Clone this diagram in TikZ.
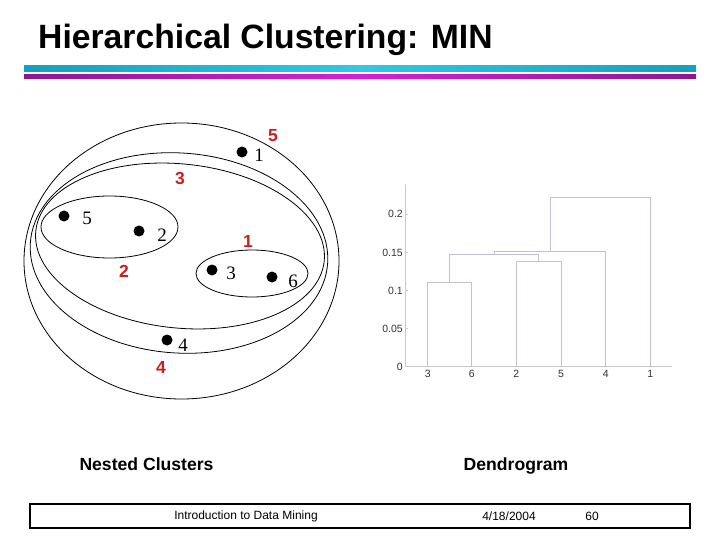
\documentclass[tikz,border=0pt]{standalone}
\usepackage{fontspec}
\setmainfont{Liberation Sans}
\newfontfamily\ptfont{Liberation Serif}
\definecolor{cyanE}{RGB}{20,160,190}
\definecolor{cyanM}{RGB}{50,200,225}
\definecolor{magE}{RGB}{140,25,145}
\definecolor{magM}{RGB}{215,30,215}
\definecolor{clred}{RGB}{205,30,30}
\definecolor{dendro}{RGB}{192,192,218}
\definecolor{axisgray}{RGB}{200,200,200}
\definecolor{ticktext}{RGB}{50,50,50}
\tikzset{
  pt/.style={circle,fill=black,inner sep=0pt,minimum size=11pt},
  ptlabel/.style={inner sep=0pt,font=\ptfont\fontsize{19}{22}\selectfont},
  cllabel/.style={inner sep=0pt,text=clred,font=\fontsize{17.5}{20}\selectfont\bfseries},
  clust/.style={draw=black,line width=0.8pt},
  dline/.style={draw=dendro,line width=1pt},
  axisline/.style={draw=axisgray,line width=0.6pt},
  ticklab/.style={inner sep=0pt,text=ticktext,font=\fontsize{10.5}{12}\selectfont},
  caption/.style={inner sep=0pt,anchor=base,font=\fontsize{17.6}{20}\selectfont\bfseries},
  foot/.style={inner sep=0pt,font=\fontsize{12}{14}\selectfont}
}
\begin{document}
\begin{tikzpicture}[x=1pt,y=-1pt]
\useasboundingbox (0,0) rectangle (720,540);
% title
\node[anchor=base west,inner sep=0pt,font=\fontsize{33.7}{40}\selectfont\bfseries] (title) at (38,49) {Hierarchical Clustering: MIN};
\shade[left color=cyanE,right color=cyanE,middle color=cyanM] (24,66) rectangle (696,72);
\shade[left color=magE,right color=magE,middle color=magM] (24,75) rectangle (696,79);
% nested clusters
\draw[clust] (181.5,261) ellipse [x radius=157.5, y radius=138];
\draw[clust] (179,253) ellipse [x radius=149, y radius=100, rotate=-4];
\draw[clust] (180,246) ellipse [x radius=145, y radius=82, rotate=-6];
\draw[clust] (109.5,227) ellipse [x radius=68.5, y radius=31];
\draw[clust] (252,273.5) ellipse [x radius=56, y radius=23.5];
% points
\node[pt] (p1) at (242,152) {};
\node[pt] (p5) at (64,216) {};
\node[pt] (p2) at (139,231) {};
\node[pt] (p3) at (212,270) {};
\node[pt] (p6) at (272,277) {};
\node[pt] (p4) at (167,340) {};
\node[ptlabel] (l1) at (259,155) {1};
\node[ptlabel] (l5) at (87,218) {5};
\node[ptlabel] (l2) at (162,235) {2};
\node[ptlabel] (l3) at (231,273) {3};
\node[ptlabel] (l6) at (293,281) {6};
\node[ptlabel] (l4) at (183,345) {4};
% cluster order labels
\node[cllabel] (c5) at (273,136) {5};
\node[cllabel] (c3) at (180,178) {3};
\node[cllabel] (c1) at (248,241) {1};
\node[cllabel] (c2) at (124,271) {2};
\node[cllabel] (c4) at (161,367) {4};
% dendrogram axes
\draw[axisline] (405,185) -- (405,366.7) -- (672,366.7);
\foreach \v/\y in {0/366.7,0.05/328.6,0.1/290.5,0.15/252.4,0.2/214.3}{
  \draw[axisline] (405,\y) -- (408,\y);
  \node[ticklab,anchor=east] (tick\v) at (403,\y) {\v};
}
\foreach \n/\x in {3/427.7,6/471.7,2/516.3,5/561,4/605.7,1/650.3}{
  \coordinate (leaf\n) at (\x,366.7);
  \draw[axisline] (\x,366.7) -- (\x,363.7);
  \node[ticklab] (leaflab\n) at (\x,374) {\n};
}
% dendrogram
\draw[dline] (leaf3) -- (427.7,282.7) -- (471.7,282.7) -- (leaf6);
\draw[dline] (leaf2) -- (516.3,261) -- (561,261) -- (leaf5);
\draw[dline] (449.7,282.7) -- (449.7,254) -- (538.7,254) -- (538.7,261);
\draw[dline] (494.2,254) -- (494.2,251.3) -- (605.7,251.3) -- (leaf4);
\draw[dline] (550,251.3) -- (550,198) -- (650.3,198) -- (leaf1);
% captions
\node[caption] (cap1) at (146.5,470.5) {Nested Clusters};
\node[caption] (cap2) at (516,470.5) {Dendrogram};
% footer
\draw[line width=2pt] (30,504) rectangle (690,528);
\node[foot] (f1) at (246,516) {Introduction to Data Mining};
\node[foot] (f2) at (509,516) {4/18/2004};
\node[foot] (f3) at (592,516) {60};
\end{tikzpicture}
\end{document}
